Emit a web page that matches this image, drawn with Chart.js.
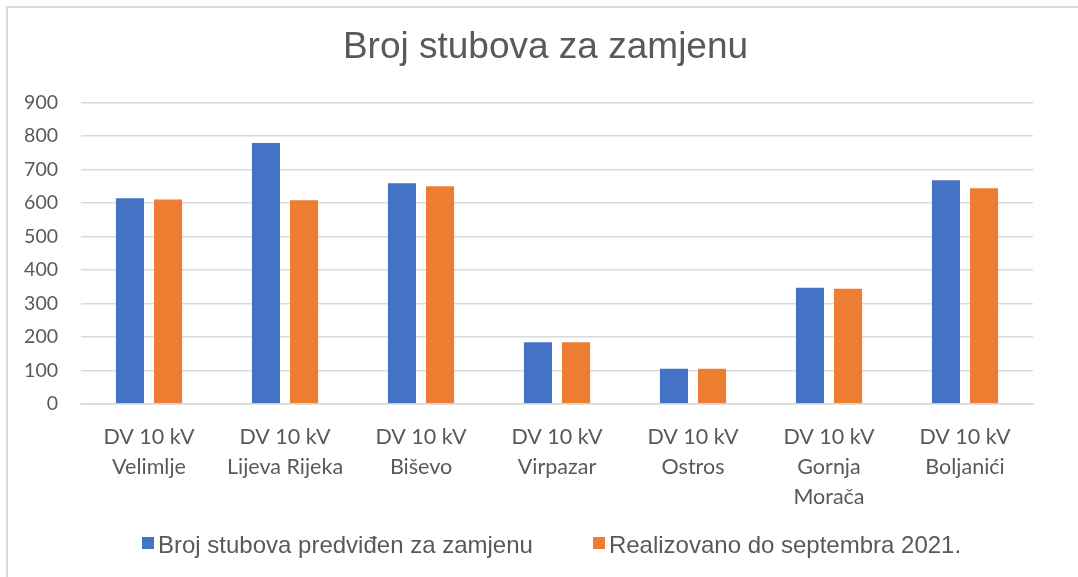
<!DOCTYPE html>
<html>
<head>
<meta charset="utf-8">
<script src="https://cdn.jsdelivr.net/npm/chart.js@4.4.0/dist/chart.umd.min.js"></script>
<style>
  html, body { margin: 0; padding: 0; background: #fff; }
  #wrap { position: relative; width: 1078px; height: 577px; }
  #frame { position: absolute; left: 6px; top: 6px; right: -10px; bottom: -10px;
           border-left: 2px solid #d9d9d9; border-top: 2px solid #d9d9d9; }
  canvas { position: absolute; left: 0; top: 0; }
  #legend { position: absolute; left: 142px; top: 533px; display: flex; align-items: center;
            font-family: "Liberation Sans", Arial, sans-serif; font-size: 24px; line-height: 24px; color: #595959; }
  #legend .item { display: flex; align-items: center; margin-right: 60px; white-space: nowrap; }
  #legend .box { width: 12px; height: 12px; margin-right: 4px; position: relative; top: -2px; }
</style>
</head>
<body>
<div id="wrap">
  <div id="frame"></div>
  <canvas id="chart" width="1078" height="577"></canvas>
  <div id="legend"></div>
</div>
<script>
var categories = [
  ['DV 10 kV', 'Velimlje'],
  ['DV 10 kV', 'Lijeva Rijeka'],
  ['DV 10 kV', 'Biševo'],
  ['DV 10 kV', 'Virpazar'],
  ['DV 10 kV', 'Ostros'],
  ['DV 10 kV', 'Gornja', 'Morača'],
  ['DV 10 kV', 'Boljanići']
];
var planned = [617, 782, 662, 187, 108, 350, 671];
var realized = [613, 611, 653, 187, 108, 347, 647];
var seriesNames = ['Broj stubova predviđen za zamjenu', 'Realizovano do septembra 2021.'];
var seriesColors = ['#4472C4', '#ED7D31'];
var yTicks = [0, 100, 200, 300, 400, 500, 600, 700, 800, 900];

var textColor = '#595959';
var gridColor = '#d9d9d9';

function make_dataset(i, values) {
  return {
    label: seriesNames[i],
    data: values,
    backgroundColor: seriesColors[i],
    borderColor: 'rgba(255,255,255,0.35)',
    borderWidth: 1,
    barPercentage: 0.79,
    categoryPercentage: 0.56
  };
}

var chart = new Chart(document.getElementById('chart'), {
  type: 'bar',
  data: {
    labels: categories,
    datasets: [make_dataset(0, planned), make_dataset(1, realized)]
  },
  options: {
    responsive: false,
    animation: false,
    layout: {
      padding: { left: 13, right: 0, top: 0, bottom: 55 }
    },
    plugins: {
      title: {
        display: true,
        text: 'Broj stubova za zamjenu',
        color: textColor,
        font: { family: '"Liberation Sans", Arial, sans-serif', size: 37, weight: 'normal' },
        padding: { top: 26, bottom: 32 }
      },
      legend: { display: false },
      tooltip: { enabled: false }
    },
    scales: {
      x: {
        grid: { display: false },
        border: { display: true, color: gridColor, width: 1.5 },
        ticks: {
          color: textColor,
          font: { family: 'Lato, "Open Sans", sans-serif', size: 21.5, lineHeight: 1.395 },
          maxRotation: 0,
          autoSkip: false,
          padding: 10
        }
      },
      y: {
        min: 0,
        max: 900,
        afterBuildTicks: function (axis) {
          axis.ticks = yTicks.map(function (v) { return { value: v }; });
        },
        afterFit: function (axis) {
          axis.width = 68;
        },
        grid: { color: gridColor, lineWidth: 1.5, drawTicks: false },
        border: { display: false },
        ticks: {
          color: textColor,
          font: { family: 'Lato, "Open Sans", sans-serif', size: 19.5 },
          padding: 23
        }
      },
      // empty right margin so the title centres like the original
      yRight: {
        position: 'right',
        grid: { display: false },
        border: { display: false },
        ticks: { display: false },
        afterFit: function (axis) {
          axis.width = 45;
        }
      }
    }
  }
});

// legend below the chart, built from the same series
var legend = document.getElementById('legend');
chart.data.datasets.forEach(function (ds) {
  var item = document.createElement('span');
  item.className = 'item';
  var box = document.createElement('span');
  box.className = 'box';
  box.style.background = ds.backgroundColor;
  item.appendChild(box);
  item.appendChild(document.createTextNode(ds.label));
  legend.appendChild(item);
});
</script>
</body>
</html>
